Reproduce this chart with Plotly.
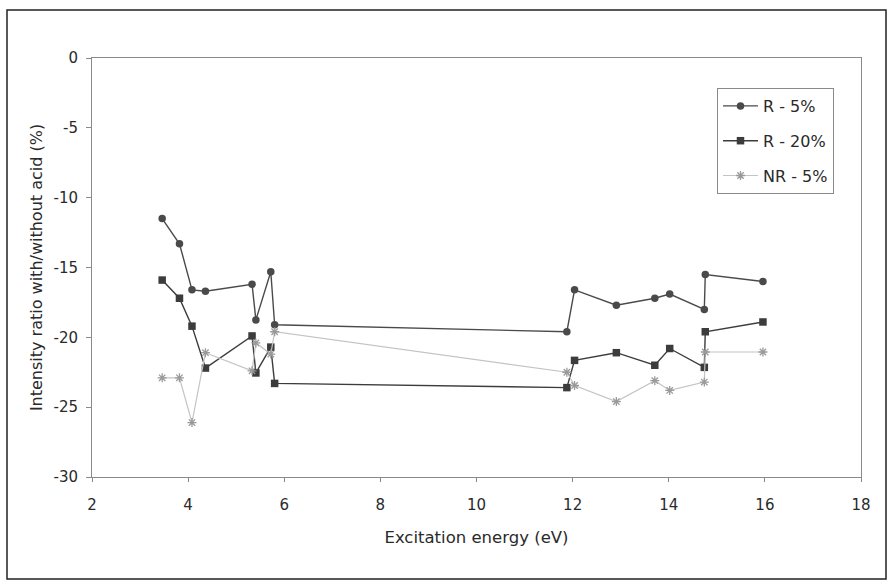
import plotly.graph_objects as go

# Excitation energies (eV) shared by all three series
energy = [3.46, 3.82, 4.08, 4.36, 5.33, 5.41, 5.72, 5.80,
          11.88, 12.04, 12.91, 13.71, 14.02, 14.74, 14.76, 15.96]

# Intensity ratio with/without acid (%)
r_5 = [-11.5, -13.3, -16.6, -16.7, -16.2, -18.75, -15.3, -19.1,
       -19.6, -16.6, -17.7, -17.2, -16.9, -18.0, -15.5, -16.0]
r_20 = [-15.9, -17.2, -19.2, -22.2, -19.9, -22.55, -20.7, -23.3,
        -23.6, -21.65, -21.1, -22.0, -20.8, -22.15, -19.6, -18.9]
nr_5 = [-22.9, -22.9, -26.1, -21.1, -22.4, -20.4, -21.2, -19.6,
        -22.5, -23.45, -24.6, -23.1, -23.8, -23.2, -21.05, -21.05]

series_names = ["R - 5%", "R - 20%", "NR - 5%"]

# Axis ticks (hyphen minus, as printed on the chart)
x_ticks = [2, 4, 6, 8, 10, 12, 14, 16, 18]
y_ticks = [0, -5, -10, -15, -20, -25, -30]
y_tick_text = ["0", "-5", "-10", "-15", "-20", "-25", "-30"]

W, H = 888, 581
L, R, T, B = 92, 27, 58, 104
pw, ph = W - L - R, H - T - B

def px(x):
    return (x - L) / pw

def py(y):
    return (H - B - y) / ph

FONT = "DejaVu Sans, Liberation Sans, Arial, sans-serif"
TXT = "#2a2a2a"
AX = "#8a8a8a"

fig = go.Figure()
fig.add_trace(go.Scatter(
    x=energy, y=r_5, name=series_names[0], mode="lines+markers", legendgroup="a",
    line=dict(color="#4a4a4a", width=1.4),
    marker=dict(symbol="circle", size=7.5, color="#4a4a4a"),
))
fig.add_trace(go.Scatter(
    x=energy, y=r_20, name=series_names[1], mode="lines+markers", legendgroup="b",
    line=dict(color="#3c3c3c", width=1.4),
    marker=dict(symbol="square", size=7.5, color="#3c3c3c"),
))
fig.add_trace(go.Scatter(
    x=energy, y=nr_5, name=series_names[2], mode="lines+markers", legendgroup="c",
    line=dict(color="#c4c4c4", width=1.2),
    marker=dict(symbol="asterisk-open", size=7.5, color="#9a9a9a",
                line=dict(color="#9a9a9a", width=1.3)),
))

fig.update_layout(
    width=W, height=H,
    margin=dict(l=L, r=R, t=T, b=B),
    paper_bgcolor="white", plot_bgcolor="white",
    font=dict(family=FONT, size=15, color=TXT),
    showlegend=True,
    legend=dict(
        x=px(717), y=py(88), xanchor="left", yanchor="top",
        bordercolor=AX, borderwidth=1, bgcolor="white",
        font=dict(family=FONT, size=16, color=TXT), tracegroupgap=11,
        traceorder="grouped", itemwidth=35,
    ),
    xaxis=dict(
        range=[2, 18], tickvals=x_ticks, showgrid=False, zeroline=False,
        showline=True, linecolor=AX, linewidth=1, mirror=True,
        ticks="outside", ticklen=4, tickcolor=AX, ticklabelstandoff=10,
        tickfont=dict(family=FONT, size=15, color=TXT),
        title=dict(text="Excitation energy (eV)",
                   font=dict(family=FONT, size=16.5, color=TXT), standoff=18),
    ),
    yaxis=dict(
        range=[-30, 0], tickvals=y_ticks, ticktext=y_tick_text,
        showgrid=False, zeroline=False,
        showline=True, linecolor=AX, linewidth=1, mirror=True,
        ticks="outside", ticklen=5, tickcolor=AX, ticklabelstandoff=5,
        tickfont=dict(family=FONT, size=15, color=TXT),
        title=dict(text="Intensity ratio with/without acid (%)",
                   font=dict(family=FONT, size=16, color=TXT), standoff=6),
    ),
    shapes=[dict(
        type="rect", xref="paper", yref="paper",
        x0=px(7), x1=px(886), y0=py(579), y1=py(10),
        line=dict(color="#222222", width=1.5), fillcolor="rgba(0,0,0,0)", layer="below",
    )],
)

fig.write_html("out.html")
